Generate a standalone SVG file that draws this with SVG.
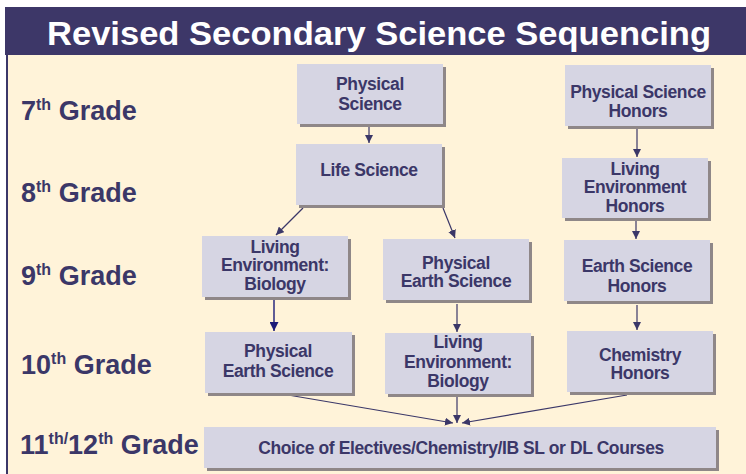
<svg xmlns="http://www.w3.org/2000/svg" width="746" height="474" viewBox="0 0 746 474">
<defs>
<marker id="ah" viewBox="0 0 10 10" refX="10" refY="5" markerWidth="8" markerHeight="8" markerUnits="userSpaceOnUse" orient="auto">
<path d="M0,0 L10,5 L0,10 z" fill="#3b3768"/>
</marker>
<marker id="ahb" viewBox="0 0 10 10" refX="10" refY="5" markerWidth="9" markerHeight="9" markerUnits="userSpaceOnUse" orient="auto">
<path d="M0,0 L10,5 L0,10 z" fill="#1c1a78"/>
</marker>
</defs>
<style>
.shadow{fill:#8f8788}
.box{fill:#d6d5e3}
.bt{font-family:"Liberation Sans",Arial,sans-serif;font-weight:bold;font-size:17.5px;fill:#3b3768;text-anchor:middle;letter-spacing:-0.4px}
.gr{font-family:"Liberation Sans",Arial,sans-serif;font-weight:bold;font-size:27px;fill:#3b3768}
.ln{stroke:#3b3768;stroke-width:1.2;fill:none;marker-end:url(#ah)}
</style>
<rect x="0" y="0" width="746" height="474" fill="#ffffff"/>
<rect x="7" y="55" width="739" height="419" fill="#fff3d9"/>
<rect x="6" y="55" width="2" height="419" fill="#3b3768"/>
<rect id="header" x="5" y="7" width="741" height="48" fill="#3d3768"/>
<text x="47" y="45" font-family="'Liberation Sans',Arial,sans-serif" font-weight="bold" font-size="34" fill="#ffffff" textLength="664" lengthAdjust="spacingAndGlyphs">Revised Secondary Science Sequencing</text>

<g id="grades">
<text class="gr" x="21" y="120">7<tspan font-size="16" dy="-10">th</tspan><tspan dy="10"> Grade</tspan></text>
<text class="gr" x="21" y="202">8<tspan font-size="16" dy="-10">th</tspan><tspan dy="10"> Grade</tspan></text>
<text class="gr" x="21" y="285">9<tspan font-size="16" dy="-10">th</tspan><tspan dy="10"> Grade</tspan></text>
<text class="gr" x="21" y="374">10<tspan font-size="16" dy="-10">th</tspan><tspan dy="10"> Grade</tspan></text>
<text class="gr" x="20" y="454">11<tspan font-size="16" dy="-10">th/</tspan><tspan dy="10">12</tspan><tspan font-size="16" dy="-10">th</tspan><tspan dy="10"> Grade</tspan></text>
</g>

<g id="connectors">
<line class="ln" x1="369" y1="127" x2="369" y2="143"/>
<line class="ln" x1="303" y1="208" x2="276" y2="235"/>
<line class="ln" x1="443" y1="208" x2="455" y2="238"/>
<line class="ln" x1="637" y1="129" x2="637" y2="157"/>
<line class="ln" x1="636" y1="221" x2="636" y2="239"/>
<line class="ln" x1="637" y1="305" x2="637" y2="330"/>
<line x1="274" y1="300" x2="274" y2="331" stroke="#1c1a78" stroke-width="1.4" marker-end="url(#ahb)"/>
<line class="ln" x1="457" y1="304" x2="457" y2="332"/>
<line class="ln" x1="288" y1="395" x2="453" y2="423"/>
<line class="ln" x1="457" y1="397" x2="457" y2="423"/>
<line class="ln" x1="627" y1="395" x2="462" y2="423"/>
</g>

<g id="n_ps">
<rect class="shadow" x="300" y="67" width="146" height="60"/>
<rect class="box" x="297" y="64" width="146" height="60"/>
<text class="bt" x="370" y="90">Physical</text>
<text class="bt" x="370" y="110">Science</text>
</g>
<g id="n_ls">
<rect class="shadow" x="299" y="147" width="146" height="61"/>
<rect class="box" x="296" y="144" width="146" height="61"/>
<text class="bt" x="369" y="176">Life Science</text>
</g>
<g id="n_psh">
<rect class="shadow" x="568" y="68" width="146" height="61"/>
<rect class="box" x="565" y="65" width="146" height="61"/>
<text class="bt" x="638" y="98">Physical Science</text>
<text class="bt" x="638" y="117">Honors</text>
</g>
<g id="n_leh">
<rect class="shadow" x="565" y="161" width="146" height="60"/>
<rect class="box" x="562" y="158" width="146" height="60"/>
<text class="bt" x="635" y="175">Living</text>
<text class="bt" x="635" y="193">Environment</text>
<text class="bt" x="635" y="212">Honors</text>
</g>
<g id="n_leb9">
<rect class="shadow" x="205" y="239" width="146" height="61"/>
<rect class="box" x="202" y="236" width="146" height="61"/>
<text class="bt" x="275" y="253">Living</text>
<text class="bt" x="275" y="271">Environment:</text>
<text class="bt" x="275" y="290">Biology</text>
</g>
<g id="n_pes9">
<rect class="shadow" x="386" y="242" width="146" height="61"/>
<rect class="box" x="383" y="239" width="146" height="61"/>
<text class="bt" x="456" y="269">Physical</text>
<text class="bt" x="456" y="287">Earth Science</text>
</g>
<g id="n_esh">
<rect class="shadow" x="567" y="243" width="146" height="61"/>
<rect class="box" x="564" y="240" width="146" height="61"/>
<text class="bt" x="637" y="272">Earth Science</text>
<text class="bt" x="637" y="292">Honors</text>
</g>
<g id="n_pes10">
<rect class="shadow" x="208" y="335" width="147" height="61"/>
<rect class="box" x="205" y="332" width="147" height="61"/>
<text class="bt" x="278" y="357">Physical</text>
<text class="bt" x="278" y="377">Earth Science</text>
</g>
<g id="n_leb10">
<rect class="shadow" x="388" y="336" width="146" height="61"/>
<rect class="box" x="385" y="333" width="146" height="61"/>
<text class="bt" x="458" y="348">Living</text>
<text class="bt" x="458" y="368">Environment:</text>
<text class="bt" x="458" y="387">Biology</text>
</g>
<g id="n_chh">
<rect class="shadow" x="570" y="334" width="146" height="61"/>
<rect class="box" x="567" y="331" width="146" height="61"/>
<text class="bt" x="640" y="361">Chemistry</text>
<text class="bt" x="640" y="379">Honors</text>
</g>
<g id="n_choice">
<rect class="shadow" x="207" y="430" width="512" height="41"/>
<rect class="box" x="204" y="427" width="512" height="41"/>
<text class="bt" x="461" y="454">Choice of Electives/Chemistry/IB SL or DL Courses</text>
</g>
</svg>
